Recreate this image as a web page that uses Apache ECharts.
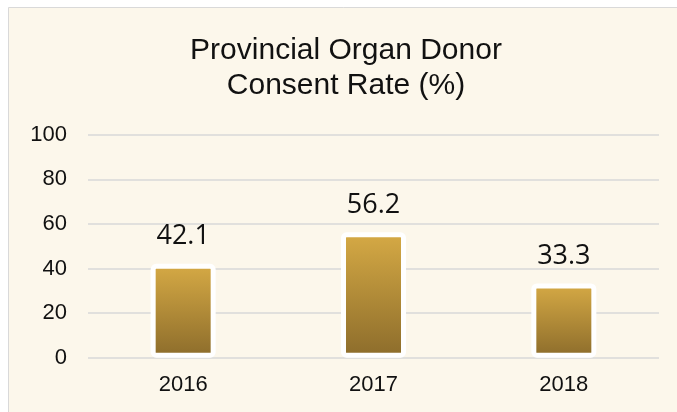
<!DOCTYPE html>
<html>
<head>
<meta charset="utf-8">
<script src="https://cdn.jsdelivr.net/npm/echarts@6/dist/echarts.min.js"></script>
<style>
html,body{margin:0;padding:0;background:#ffffff;}
#main{width:677px;height:412px;}
</style>
</head>
<body>
<div id="main"></div>
<script>
const titleText = "Provincial Organ Donor\nConsent Rate (%)";
const categories = ["2016", "2017", "2018"];
const consentRate = [42.1, 56.2, 33.3];
const yTicks = [0, 20, 40, 60, 80, 100];

const chart = echarts.init(document.getElementById('main'), null, {renderer: 'canvas'});
chart.setOption({
  animation: false,
  backgroundColor: '#ffffff',
  graphic: [{
    type: 'rect',
    z: -10,
    shape: {x: 8.5, y: 7.5, width: 700, height: 420},
    style: {fill: '#FCF7EB', stroke: '#D9D9D9', lineWidth: 1}
  }],
  title: {
    text: titleText,
    left: 341, top: 28, textAlign: 'center',
    textStyle: {fontFamily: 'Liberation Sans', fontSize: 30, fontWeight: 'normal', color: '#111', lineHeight: 35}
  },
  grid: {left: 88, right: 18, top: 134.7, bottom: 54.3},
  xAxis: {
    type: 'category',
    data: categories,
    axisLine: {show: false},
    axisTick: {show: false},
    axisLabel: {fontFamily: 'Liberation Sans', fontSize: 22, color: '#111', margin: 16}
  },
  yAxis: {
    type: 'value',
    min: yTicks[0], max: yTicks[yTicks.length - 1], interval: 20,
    axisLine: {show: false},
    axisTick: {show: false},
    axisLabel: {fontFamily: 'Liberation Sans', fontSize: 22, color: '#111', margin: 21},
    splitLine: {lineStyle: {color: '#D9D9D9', width: 1.5}}
  },
  series: [{
    type: 'bar',
    data: consentRate,
    barWidth: 65,
    itemStyle: {
      color: new echarts.graphic.LinearGradient(0, 0, 0, 1, [
        {offset: 0, color: '#D6AA45'},
        {offset: 1, color: '#8C6C2B'}
      ]),
      borderColor: '#ffffff',
      borderWidth: 5,
      borderRadius: 3
    },
    label: {
      show: true,
      position: 'top',
      distance: 14,
      fontFamily: 'Open Sans',
      fontSize: 27,
      color: '#111'
    }
  }]
});
</script>
</body>
</html>
